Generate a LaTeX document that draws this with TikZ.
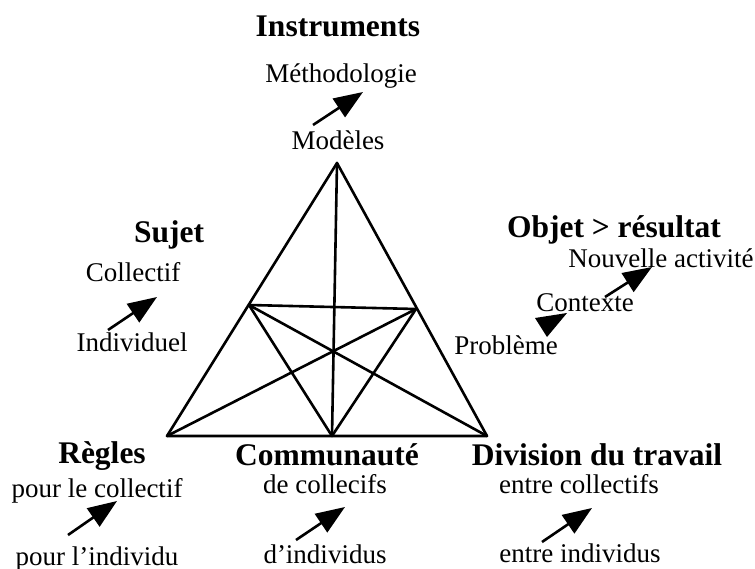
\documentclass[tikz,border=0pt]{standalone}
\usepackage{fontspec}
\setmainfont{Liberation Serif}
\usetikzlibrary{arrows.meta}
\tikzset{
  lbl/.style={anchor=base, inner sep=0pt, font=\fontsize{27}{30}\selectfont},
  head/.style={anchor=base, inner sep=0pt, font=\fontsize{31.5}{34}\selectfont\bfseries},
  edge/.style={line width=2.6pt, line join=round, line cap=round},
  arr/.style={line width=2.6pt, -{Triangle[length=29pt,width=22pt]}}
}
\begin{document}
\begin{tikzpicture}[x=1pt,y=-1pt]
\useasboundingbox (0,0) rectangle (755,569);
% triangle
\coordinate (A) at (337,163);
\coordinate (L) at (167,436);
\coordinate (R) at (487,436);
\coordinate (M) at (332,436);
\coordinate (P) at (249,305);
\coordinate (Q) at (416,309);
\draw[edge] (A) -- (L) -- (R) -- cycle;
\draw[edge] (A) -- (M);
\draw[edge] (P) -- (Q);
\draw[edge] (P) -- (M);
\draw[edge] (P) -- (R);
\draw[edge] (Q) -- (L);
\draw[edge] (Q) -- (M);
% top
\node[head] (instr) at (338,37) {Instruments};
\node[lbl] (meth) at (341,83) {Méthodologie};
\node[lbl] (mod) at (338,150) {Modèles};
\coordinate (t1) at (313,125); \coordinate (h1) at (363,92);
\draw[arr] (t1) -- (h1);
% left
\node[head] (sujet) at (169,243) {Sujet};
\node[lbl] (coll) at (133,282) {Collectif};
\node[lbl] (indiv) at (132,352) {Individuel};
\coordinate (t2) at (108,330); \coordinate (h2) at (157,297);
\draw[arr] (t2) -- (h2);
% right
\node[head] (objet) at (614,238) {Objet > résultat};
\node[lbl] (nouv) at (661,268) {Nouvelle activité};
\node[lbl] (ctx) at (585,312) {Contexte};
\node[lbl] (prob) at (506,355) {Problème};
\coordinate (t3) at (605,297); \coordinate (h3) at (652,267);
\draw[arr] (t3) -- (h3);
\fill (535,318) -- (567,313) -- (547,337) -- cycle;
% bottom left
\node[head] (regles) at (102,463) {Règles};
\node[lbl] (plc) at (97,497) {pour le collectif};
\node[lbl] (pli) at (97,565) {pour l’individu};
\coordinate (t4) at (68,535); \coordinate (h4) at (117,501);
\draw[arr] (t4) -- (h4);
% bottom middle
\node[head] (comm) at (327,465) {Communauté};
\node[lbl] (dcol) at (325,493) {de collecifs};
\node[lbl] (dind) at (325,563) {d’individus};
\coordinate (t5) at (296,540); \coordinate (h5) at (345,507);
\draw[arr] (t5) -- (h5);
% bottom right
\node[head] (div) at (597,465) {Division du travail};
\node[lbl] (ecol) at (579,493) {entre collectifs};
\node[lbl] (eind) at (580,562) {entre individus};
\coordinate (t6) at (542,542); \coordinate (h6) at (592,508);
\draw[arr] (t6) -- (h6);
\end{tikzpicture}
\end{document}
